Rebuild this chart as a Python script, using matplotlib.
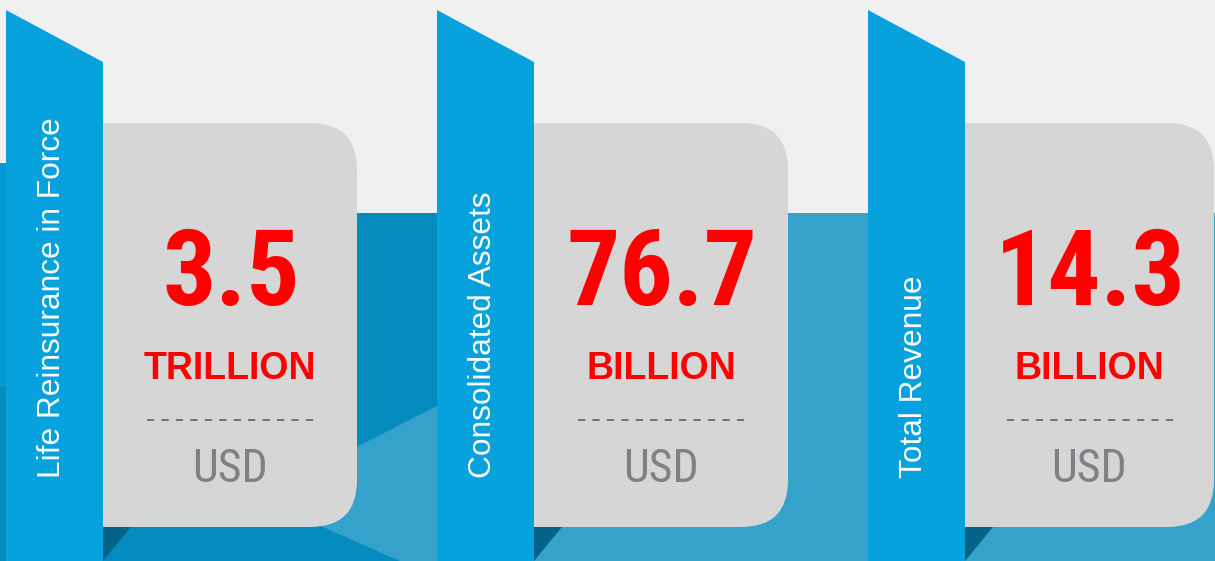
import matplotlib
matplotlib.use('Agg')
import matplotlib.pyplot as plt
from matplotlib import font_manager
from matplotlib.font_manager import FontProperties
from matplotlib.patches import Polygon, Rectangle, FancyBboxPatch

# data read from the infographic
labels = ['Life Reinsurance in Force', 'Consolidated Assets', 'Total Revenue']
values = ['3.5', '76.7', '14.3']
units = ['TRILLION', 'BILLION', 'BILLION']
currency = ['USD', 'USD', 'USD']


def find_font(prefs, bold):
    # look for a narrow / condensed face among the installed files
    fl = font_manager.fontManager.ttflist
    for p in prefs:
        for f in fl:
            key = (f.name + ' ' + f.fname).lower()
            is_bold = f.weight in (700, 'bold') or 'bold' in f.fname.lower()
            if p in key and ('condensed' in key or 'narrow' in key) and is_bold == bold \
                    and 'italic' not in key and 'oblique' not in key and 'semi' not in key \
                    and 'extra' not in key and 'light' not in key:
                return FontProperties(fname=f.fname)
    return None


prefs = ['roboto', 'open sans', 'liberation', 'noto sans', 'dejavu']
num_font = find_font(prefs, True) or FontProperties(family='Liberation Sans', weight='bold')
usd_font = find_font(prefs, False) or FontProperties(family='Liberation Sans')

W, H = 1215, 561
fig = plt.figure(figsize=(W / 100, H / 100), dpi=100)
fig.patch.set_facecolor('#f0f0f0')
ax = fig.add_axes([0, 0, 1, 1])
ax.set_xlim(0, W)
ax.set_ylim(H, 0)
ax.axis('off')

ribbon_c = '#07a1dd'
card_c = '#d6d6d6'
dark_c = '#058cbe'
light_c = '#35a2cb'
fold_c = '#05638a'

# background bands
ax.add_patch(Rectangle((0, 213), 437, H - 213, color=dark_c, lw=0))
ax.add_patch(Rectangle((437, 213), W - 437, H - 213, color=light_c, lw=0))
ax.add_patch(Polygon([(257, 498), (437, 406), (437, H), (400, H)], color=light_c, lw=0))
ax.add_patch(Rectangle((0, 163), 6, 224, color='#039ad6', lw=0))

ribbon_x = [6, 437, 868]
card_w = [254, 254, 249]

for i in range(3):
    x0 = ribbon_x[i]
    rx = x0 + 97
    cx = rx + card_w[i] / 2

    # card (left corners hidden under ribbon)
    ax.add_patch(FancyBboxPatch((rx - 60, 123), card_w[i] + 60, 404,
                                boxstyle='round,pad=0,rounding_size=47',
                                fc=card_c, ec='none'))
    # folded shadow below the card
    ax.add_patch(Polygon([(rx, 527), (rx + 28, 527), (rx, H)], color=fold_c, lw=0))
    # ribbon
    ax.add_patch(Polygon([(x0, 10), (rx, 62), (rx, H), (x0, H)], color=ribbon_c, lw=0))

    ax.text(x0 + 46, 478, labels[i], rotation=90, ha='center', va='bottom',
            color='white', fontsize=22.8, family='Liberation Sans')

    ax.text(cx + 1, 305, values[i], ha='center', va='baseline', color='#ff0000',
            fontproperties=num_font, fontsize=76)
    ax.text(cx, 379, units[i], ha='center', va='baseline', color='#ff0000',
            fontsize=27, fontweight='bold', family='Liberation Sans')
    ax.plot([cx - 83, cx + 84], [420, 420], color='#6a6a6a', lw=1.3,
            dashes=(4.0, 4.0), dash_capstyle='butt')
    ax.text(cx, 482, currency[i], ha='center', va='baseline', color='#808185',
            fontproperties=usd_font, fontsize=33)

fig.savefig('out.png', dpi=100, facecolor=fig.get_facecolor())
